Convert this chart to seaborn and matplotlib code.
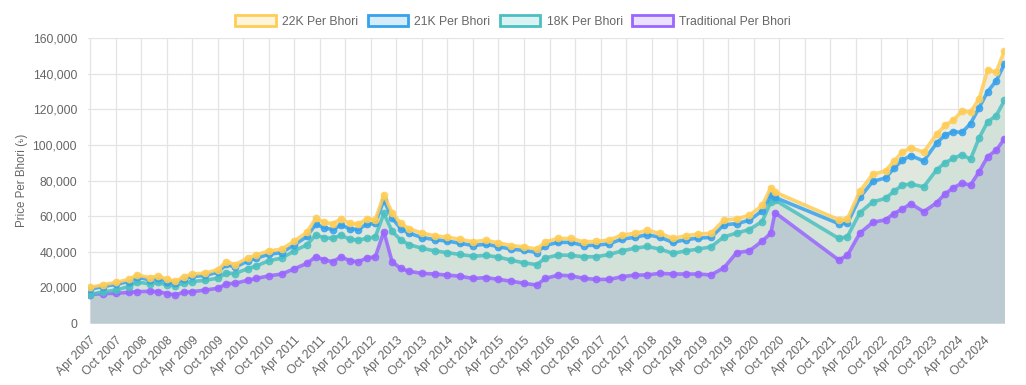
import pandas as pd
import numpy as np
import matplotlib
matplotlib.use("Agg")
import matplotlib.pyplot as plt
import matplotlib.dates as mdates
from matplotlib.patches import Patch
import seaborn as sns

# dates of the readings (month resolution)
dates = ["2007-04", "2007-07", "2007-10", "2008-01", "2008-03", "2008-06", "2008-08", "2008-10", "2008-12",
         "2009-02", "2009-04", "2009-07", "2009-10", "2009-12", "2010-02", "2010-05", "2010-07", "2010-10",
         "2011-01", "2011-04", "2011-07", "2011-09", "2011-11", "2012-01", "2012-03", "2012-05", "2012-07",
         "2012-09", "2012-11", "2013-01", "2013-03", "2013-05", "2013-07", "2013-10", "2014-01", "2014-04",
         "2014-07", "2014-10", "2015-01", "2015-04", "2015-07", "2015-10", "2016-01", "2016-03", "2016-06",
         "2016-09", "2016-12", "2017-03", "2017-06", "2017-09", "2017-12", "2018-03", "2018-06", "2018-09",
         "2018-12", "2019-03", "2019-06", "2019-09", "2019-12", "2020-03", "2020-06", "2020-08", "2020-09",
         "2021-12", "2022-02", "2022-05", "2022-08", "2022-11", "2023-01", "2023-03", "2023-05", "2023-08",
         "2023-11", "2024-01", "2024-03", "2024-05", "2024-07", "2024-09", "2024-11", "2025-01", "2025-03"]

k22 = [20000, 21500, 22800, 24500, 27000, 25500, 26500, 24500, 23500,
       26000, 27500, 28000, 30000, 34500, 32800, 36500, 38200, 40500,
       41500, 46000, 51000, 58800, 56500, 55800, 58500, 56000, 55500,
       58500, 58000, 72000, 62000, 56000, 53000, 50500, 49000, 48200,
       47000, 45600, 46500, 45000, 43500, 42800, 41500, 45600, 47500,
       47500, 45600, 45800, 46600, 49400, 50400, 52000, 50400, 47500,
       49000, 50000, 50400, 57800, 58500, 60500, 66000, 76000, 73500,
       58000, 58500, 74000, 83500, 85500, 91000, 96000, 98500, 96000,
       106000, 111000, 114000, 119000, 118500, 126000, 142000, 141000, 153000]

k21 = [19000, 20500, 21700, 23300, 25700, 24300, 25200, 23300, 22400,
       24800, 26200, 26700, 28600, 32900, 31300, 34800, 36400, 38600,
       39600, 43900, 48600, 55500, 53500, 52500, 55000, 53000, 52500,
       55500, 56000, 69000, 59000, 53000, 50500, 48000, 46800, 46000,
       44800, 43500, 44300, 42900, 41500, 40800, 39600, 43500, 45300,
       45300, 43500, 43700, 44500, 47100, 48100, 49600, 48100, 45300,
       46800, 47700, 48100, 55200, 55800, 57700, 63000, 72000, 70500,
       55800, 56000, 70500, 79500, 81500, 87000, 91500, 94000, 91000,
       101000, 105500, 107500, 107000, 112000, 121000, 130000, 136000, 145500]

k18 = [16000, 17500, 18500, 20500, 23000, 22000, 22800, 21300, 21000,
       22500, 23300, 24000, 25200, 28000, 27800, 30500, 32000, 35000,
       36500, 40500, 44000, 49400, 48000, 47500, 49400, 47000, 46600,
       47500, 48400, 61600, 51500, 46600, 44000, 42000, 40500, 39500,
       38500, 37500, 38000, 37000, 35300, 33800, 32800, 36500, 38200,
       38000, 37200, 37200, 38500, 40500, 42000, 43000, 41500, 39100,
       40500, 41500, 42800, 48400, 50500, 52500, 57000, 68000, 69000,
       47500, 48500, 62000, 68000, 70000, 74000, 77500, 78000, 76500,
       86000, 90000, 92500, 94500, 92000, 104000, 113000, 116500, 125000]

traditional = [16000, 16500, 16700, 17200, 17600, 17800, 17600, 16500, 15800,
               17300, 17600, 18500, 19500, 22000, 22300, 24000, 25000, 26500,
               27500, 30500, 33500, 37200, 35500, 34400, 37200, 35000, 34400,
               36500, 37200, 51300, 34400, 30700, 29000, 27900, 27500, 26900,
               26300, 25000, 25500, 24500, 23500, 22300, 21300, 25000, 26900,
               26500, 25100, 24500, 24500, 26000, 26900, 27000, 27900, 27500,
               27500, 27500, 27000, 31000, 39500, 40500, 46000, 50400, 62000,
               35400, 38000, 50500, 56500, 58000, 61500, 64000, 67000, 62500,
               67500, 72500, 76000, 78500, 77500, 85000, 93500, 97000, 103500]

labels = ["22K Per Bhori", "21K Per Bhori", "18K Per Bhori", "Traditional Per Bhori"]
line_colors = ["#ffcd56", "#36a2eb", "#4bc0c0", "#9966ff"]
legend_fill = ["#fff5dd", "#d7ecfb", "#dbf2f2", "#ebe0ff"]
area_colors = ["#eceee4", "#dfe7df", "#d2e2d9", "#bccbd1"]

df = pd.DataFrame({"date": pd.to_datetime(dates), labels[0]: k22, labels[1]: k21,
                   labels[2]: k18, labels[3]: traditional})

sns.set_style("white")
# FreeSans carries the taka sign used in the axis title
plt.rcParams["font.family"] = ["Liberation Sans", "FreeSans", "DejaVu Sans"]

fig, ax = plt.subplots(figsize=(10.26, 3.85), dpi=100)
fig.subplots_adjust(left=0.086, right=0.979, top=0.901, bottom=0.161)

# areas first, top series first so the lower ones lie over them
for lab, col in zip(labels, area_colors):
    ax.fill_between(df["date"], 0, df[lab], color=col, lw=0, zorder=1)

# lines, bottom series first so 22K ends up on top
for lab, col in list(zip(labels, line_colors))[::-1]:
    sns.lineplot(data=df, x="date", y=lab, ax=ax, color=col, lw=2.6, marker="o",
                 markersize=4.8, markeredgecolor=col, markerfacecolor=col, alpha=0.85, zorder=3)

ax.set_ylim(0, 160000)
ax.set_xlim(pd.Timestamp("2007-03-18"), pd.Timestamp("2025-03-01"))
ax.set_yticks(np.arange(0, 160001, 20000))
ax.yaxis.set_major_formatter(matplotlib.ticker.FuncFormatter(lambda v, p: f"{v:,.0f}"))
ax.xaxis.set_major_locator(mdates.MonthLocator(bymonth=[4, 10]))
ax.xaxis.set_major_formatter(mdates.DateFormatter("%b %Y"))
plt.setp(ax.get_xticklabels(), rotation=45, ha="right", rotation_mode="anchor")

ax.grid(True, color="#e4e4e4", lw=0.9, zorder=0)
ax.set_axisbelow(True)
ax.tick_params(axis="both", length=6, color="#e4e4e4", labelcolor="#666666", labelsize=8.8, pad=2)
for s in ax.spines.values():
    s.set_visible(False)
ax.set_xlabel("")
ax.set_ylabel("Price Per Bhori (\u09f3)", color="#666666", fontsize=8.3, labelpad=3)

handles = [Patch(facecolor=f, edgecolor=e, lw=2) for f, e in zip(legend_fill, line_colors)]
fig.legend(handles, labels, loc="center", bbox_to_anchor=(0.5, 0.945), ncol=4, frameon=False,
           handlelength=3.3, handleheight=1.0, handletextpad=0.5, columnspacing=0.8,
           fontsize=8.8, labelcolor="#666666")

plt.savefig("out.png", dpi=100)
